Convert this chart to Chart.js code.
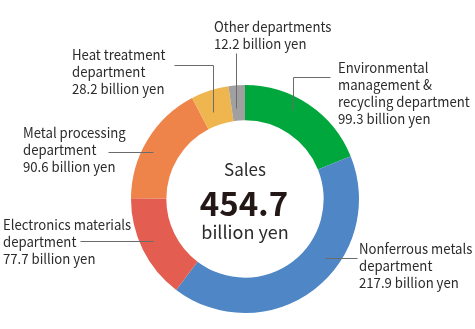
<!DOCTYPE html>
<html lang="en">
<head>
    <meta charset="UTF-8">
    <title>Sales by Department</title>
    <script src="https://cdn.jsdelivr.net/npm/chart.js"></script>
    <style>
        html, body { margin: 0; padding: 0; background: #fff; }
        #wrap { position: relative; width: 475px; height: 329px; }
    </style>
</head>
<body>
    <div id="wrap"><canvas id="salesChart" width="475" height="329"></canvas></div>
    <script>
        // department sales, billion yen (clockwise from 12 o'clock)
        const departments = [
            'Environmental management & recycling department',
            'Nonferrous metals department',
            'Electronics materials department',
            'Metal processing department',
            'Heat treatment department',
            'Other departments'
        ];
        const sales = [99.3, 217.9, 77.7, 90.6, 28.2, 12.2];
        const colors = ['#00a73c', '#4f86c5', '#e35e50', '#ef844b', '#efb54f', '#a0a0a0'];
        const totalSales = '454.7';

        // text blocks of each label, same order as the data
        const labelLines = [
            ['Environmental', 'management &', 'recycling department', '99.3 billion yen'],
            ['Nonferrous metals', 'department', '217.9 billion yen'],
            ['Electronics materials', 'department', '77.7 billion yen'],
            ['Metal processing', 'department', '90.6 billion yen'],
            ['Heat treatment', 'department', '28.2 billion yen'],
            ['Other departments', '12.2 billion yen']
        ];

        const FONT = '"Noto Sans CJK JP", "Noto Sans", sans-serif';
        const TEXT = '#2b2b2b';

        // where each label sits and how its leader line runs
        const layout = [
            { x: 338, y: 68, line: [[330, 77], [293, 77], [293, 110]] },
            { x: 359, y: 249, line: [[357, 258], [325, 258]] },
            { x: 3, y: 225, line: [[80, 241], [153, 241]] },
            { x: 23, y: 133, line: [[108, 152], [153, 152]] },
            { x: 72, y: 55, line: [[174, 65], [213, 65], [213, 112]] },
            { x: 214, y: 27, line: [[236, 53], [236, 108]] }
        ];

        const labelPlugin = {
            id: 'labels',
            afterDraw(chart) {
                const ctx = chart.ctx;
                ctx.save();
                ctx.strokeStyle = '#6b6b6b';
                ctx.lineWidth = 1;
                layout.forEach((l) => {
                    ctx.beginPath();
                    l.line.forEach((p, i) => {
                        if (i === 0) ctx.moveTo(p[0] + 0.5, p[1] + 0.5);
                        else ctx.lineTo(p[0] + 0.5, p[1] + 0.5);
                    });
                    ctx.stroke();
                });

                ctx.fillStyle = TEXT;
                ctx.textAlign = 'left';
                ctx.textBaseline = 'middle';
                // the original face is a bit narrower, squeeze slightly
                ctx.font = '14px ' + FONT;
                layout.forEach((l, i) => {
                    labelLines[i].forEach((t, j) => {
                        ctx.save();
                        ctx.translate(l.x, l.y + j * 16.8);
                        ctx.scale(0.94, 1);
                        ctx.fillText(t, 0, 0);
                        ctx.restore();
                    });
                });

                // centre text
                const arc = chart.getDatasetMeta(0).data[0];
                const cx = arc.x, cy = arc.y;
                ctx.textAlign = 'center';
                ctx.font = '17px ' + FONT;
                ctx.fillText('Sales', cx, cy - 29);
                ctx.font = 'bold 33px ' + FONT;
                ctx.fillStyle = '#231815';
                ctx.fillText(totalSales, cx - 1, cy + 4);
                ctx.fillStyle = TEXT;
                ctx.font = '18px ' + FONT;
                ctx.fillText('billion yen', cx, cy + 33);
                ctx.restore();
            }
        };

        new Chart(document.getElementById('salesChart'), {
            type: 'doughnut',
            data: {
                labels: departments,
                datasets: [{
                    data: sales,
                    backgroundColor: colors,
                    borderWidth: 0
                }]
            },
            options: {
                responsive: false,
                animation: false,
                cutout: '69%',
                layout: { padding: { left: 131, right: 116, top: 85, bottom: 16 } },
                plugins: {
                    legend: { display: false },
                    tooltip: { enabled: false }
                }
            },
            plugins: [labelPlugin]
        });
    </script>
</body>
</html>
